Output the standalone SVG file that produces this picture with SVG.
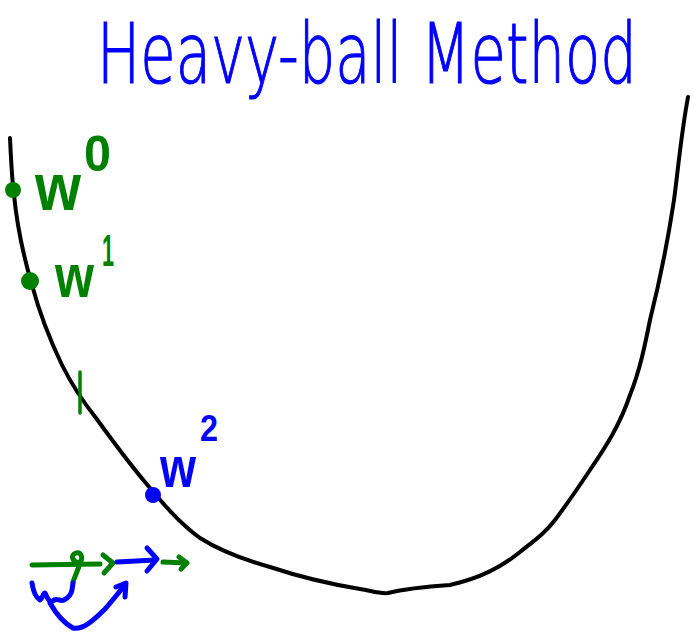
<svg xmlns="http://www.w3.org/2000/svg" width="693" height="636" viewBox="0 0 693 636">
<style>
.ink{fill:none;stroke-linecap:round;stroke-linejoin:round}
.k{stroke:#000;stroke-width:4}
.g{stroke:#008000;stroke-width:5}
.b{stroke:#0000ff;stroke-width:5}
.hand{font-family:"Liberation Sans","DejaVu Sans",sans-serif;font-weight:bold}
.title{font-family:"DejaVu Sans","Liberation Sans",sans-serif;font-weight:200}
.gt{fill:#008000}
.bt{fill:#0000ff}
</style>
<rect width="693" height="636" fill="#fff"/>
<g id="title">
<text class="title bt" transform="scale(0.684,1)" x="141.8" y="83" font-size="84" textLength="789" lengthAdjust="spacingAndGlyphs" stroke="#0000ff" stroke-width="1.2">Heavy-ball Method</text>
</g>
<g id="curve">
<path class="ink k" d="M10,138 C11,160 12,180 14,195 C17,225 24,258 32,285 C40,315 50,340 62,365 C72,385 84,403 96,418 C112,440 128,462 145,482 C160,500 178,522 200,538 C222,552 245,560 270,567 C300,577 330,584 360,589 C372,591 380,594 388,593 C400,590 420,587 450,585 C480,578 500,568 520,552 C535,540 545,533 555,520 C570,500 580,485 590,470 C605,448 620,425 630,395 C640,370 645,345 650,320 C660,280 668,240 674,200 C678,170 681,135 688,97"/>
</g>
<g id="w0">
<circle cx="13" cy="190" r="8" fill="#008000"/>
<text class="hand gt" x="35" y="210" font-size="66" textLength="46" lengthAdjust="spacingAndGlyphs">w</text>
<text class="hand gt" x="84" y="171" font-size="50" textLength="27" lengthAdjust="spacingAndGlyphs">0</text>
</g>
<g id="w1">
<circle cx="30" cy="281" r="9" fill="#008000"/>
<text class="hand gt" x="55" y="297" font-size="62" textLength="39" lengthAdjust="spacingAndGlyphs">w</text>
<text class="hand gt" x="102" y="266" font-size="44" textLength="12" lengthAdjust="spacingAndGlyphs">1</text>
</g>
<g id="tick">
<path class="ink g" style="stroke-width:3.5" d="M80,372 L80,413"/>
</g>
<g id="w2">
<circle cx="153" cy="495" r="8" fill="#0000ff"/>
<text class="hand bt" x="160" y="487" font-size="58" textLength="36" lengthAdjust="spacingAndGlyphs">w</text>
<text class="hand bt" x="200" y="441" font-size="37" textLength="18" lengthAdjust="spacingAndGlyphs">2</text>
</g>
<g id="connectors">
<path class="ink g" d="M32,565 L100,564"/>
<path class="ink g" d="M80,563 C84,556 80,552 76,553 C70,555 72,562 80,563 C78,570 75,576 73,582"/>
<path class="ink g" d="M103,555 L113,563 L104,573"/>
<path class="ink b" d="M117,562 L155,560"/>
<path class="ink b" d="M147,548 L157,559 L147,571"/>
<path class="ink g" d="M163,562 L186,563"/>
<path class="ink g" d="M179,557 L187,563 L181,569"/>
<path class="ink b" d="M32,583 C33,590 35,597 40,600 C43,598 43,593 45,593 C47,598 50,603 53,601 C56,597 60,602 64,600 C68,598 71,595 72,590 L73,583"/>
<path class="ink b" d="M50,603 C55,612 62,622 73,628 C82,630 92,622 105,609 C113,600 119,592 125,585"/>
<path class="ink b" d="M116,587 L126,583 L125,597"/>
</g>
</svg>
